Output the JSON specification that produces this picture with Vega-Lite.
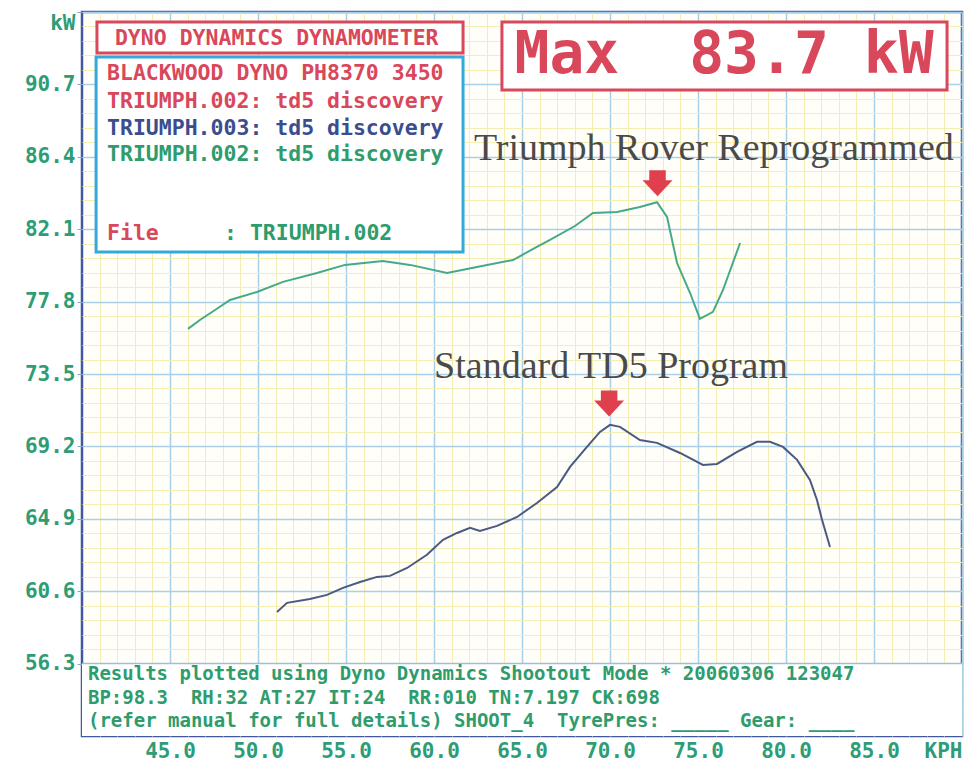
{
  "$schema": "https://vega.github.io/schema/vega-lite/v6.json",
  "width": 880,
  "height": 724,
  "autosize": {"type": "none"},
  "padding": {"left": 82, "top": 12, "right": 13, "bottom": 40},
  "background": "#ffffff",
  "config": {
    "view": {"stroke": "#3f58a0", "strokeWidth": 2.5, "fill": "#fffef8"},
    "font": "DejaVu Sans Mono"
  },
  "resolve": {"axis": {"x": "independent", "y": "independent"}},
  "layer": [
    {
      "data": {"values": [{"x0": 40, "x1": 90, "y0": 52, "y1": 56.3}]},
      "mark": {"type": "rect", "fill": "#ffffff"},
      "encoding": {
        "x": {
          "field": "x0", "type": "quantitative",
          "scale": {"domain": [40, 90], "nice": false, "zero": false},
          "axis": {
            "orient": "top", "title": null, "labels": false, "ticks": false, "domain": false,
            "grid": true, "gridColor": "#f3eeb4", "gridWidth": 1,
            "values": [41,42,43,44,46,47,48,49,51,52,53,54,56,57,58,59,61,62,63,64,66,67,68,69,71,72,73,74,76,77,78,79,81,82,83,84,86,87,88,89]
          }
        },
        "x2": {"field": "x1"},
        "y": {
          "field": "y0", "type": "quantitative",
          "scale": {"domain": [52, 95], "nice": false, "zero": false},
          "axis": {
            "orient": "right", "title": null, "labels": false, "ticks": false, "domain": false,
            "grid": true, "gridColor": "#f3eeb4", "gridWidth": 1,
            "values": [52.86,53.72,54.58,55.44,57.16,58.02,58.88,59.74,61.46,62.32,63.18,64.04,65.76,66.62,67.48,68.34,70.06,70.92,71.78,72.64,74.36,75.22,76.08,76.94,78.66,79.52,80.38,81.24,82.96,83.82,84.68,85.54,87.26,88.12,88.98,89.84,91.56,92.42,93.28,94.14]
          }
        },
        "y2": {"field": "y1"}
      }
    },
    {
      "data": {"values": [{"program": "Triumph Rover Reprogrammed", "kph": 46.02, "kW": 76.18}, {"program": "Triumph Rover Reprogrammed", "kph": 46.70, "kW": 76.71}, {"program": "Triumph Rover Reprogrammed", "kph": 47.56, "kW": 77.30}, {"program": "Triumph Rover Reprogrammed", "kph": 48.41, "kW": 77.90}, {"program": "Triumph Rover Reprogrammed", "kph": 49.94, "kW": 78.37}, {"program": "Triumph Rover Reprogrammed", "kph": 51.42, "kW": 78.97}, {"program": "Triumph Rover Reprogrammed", "kph": 53.35, "kW": 79.50}, {"program": "Triumph Rover Reprogrammed", "kph": 54.94, "kW": 79.98}, {"program": "Triumph Rover Reprogrammed", "kph": 57.10, "kW": 80.21}, {"program": "Triumph Rover Reprogrammed", "kph": 58.64, "kW": 79.98}, {"program": "Triumph Rover Reprogrammed", "kph": 60.74, "kW": 79.50}, {"program": "Triumph Rover Reprogrammed", "kph": 62.44, "kW": 79.86}, {"program": "Triumph Rover Reprogrammed", "kph": 64.49, "kW": 80.27}, {"program": "Triumph Rover Reprogrammed", "kph": 65.74, "kW": 80.99}, {"program": "Triumph Rover Reprogrammed", "kph": 66.59, "kW": 81.46}, {"program": "Triumph Rover Reprogrammed", "kph": 68.01, "kW": 82.29}, {"program": "Triumph Rover Reprogrammed", "kph": 69.03, "kW": 83.06}, {"program": "Triumph Rover Reprogrammed", "kph": 70.40, "kW": 83.12}, {"program": "Triumph Rover Reprogrammed", "kph": 71.70, "kW": 83.42}, {"program": "Triumph Rover Reprogrammed", "kph": 72.67, "kW": 83.70}, {"program": "Triumph Rover Reprogrammed", "kph": 73.24, "kW": 82.83}, {"program": "Triumph Rover Reprogrammed", "kph": 73.81, "kW": 80.09}, {"program": "Triumph Rover Reprogrammed", "kph": 74.55, "kW": 78.31}, {"program": "Triumph Rover Reprogrammed", "kph": 75.11, "kW": 76.77}, {"program": "Triumph Rover Reprogrammed", "kph": 75.85, "kW": 77.19}, {"program": "Triumph Rover Reprogrammed", "kph": 76.42, "kW": 78.49}, {"program": "Triumph Rover Reprogrammed", "kph": 77.39, "kW": 81.28},
        {"program": "Standard TD5 Program", "kph": 51.08, "kW": 59.37}, {"program": "Standard TD5 Program", "kph": 51.65, "kW": 59.91}, {"program": "Standard TD5 Program", "kph": 52.95, "kW": 60.14}, {"program": "Standard TD5 Program", "kph": 53.92, "kW": 60.38}, {"program": "Standard TD5 Program", "kph": 54.83, "kW": 60.80}, {"program": "Standard TD5 Program", "kph": 55.80, "kW": 61.15}, {"program": "Standard TD5 Program", "kph": 56.76, "kW": 61.45}, {"program": "Standard TD5 Program", "kph": 57.50, "kW": 61.51}, {"program": "Standard TD5 Program", "kph": 58.47, "kW": 61.98}, {"program": "Standard TD5 Program", "kph": 59.60, "kW": 62.76}, {"program": "Standard TD5 Program", "kph": 60.51, "kW": 63.65}, {"program": "Standard TD5 Program", "kph": 61.31, "kW": 64.06}, {"program": "Standard TD5 Program", "kph": 62.05, "kW": 64.36}, {"program": "Standard TD5 Program", "kph": 62.61, "kW": 64.18}, {"program": "Standard TD5 Program", "kph": 63.58, "kW": 64.48}, {"program": "Standard TD5 Program", "kph": 64.72, "kW": 65.01}, {"program": "Standard TD5 Program", "kph": 65.85, "kW": 65.84}, {"program": "Standard TD5 Program", "kph": 66.99, "kW": 66.79}, {"program": "Standard TD5 Program", "kph": 67.73, "kW": 67.98}, {"program": "Standard TD5 Program", "kph": 68.69, "kW": 69.17}, {"program": "Standard TD5 Program", "kph": 69.43, "kW": 70.06}, {"program": "Standard TD5 Program", "kph": 70.00, "kW": 70.48}, {"program": "Standard TD5 Program", "kph": 70.57, "kW": 70.36}, {"program": "Standard TD5 Program", "kph": 71.70, "kW": 69.58}, {"program": "Standard TD5 Program", "kph": 72.67, "kW": 69.41}, {"program": "Standard TD5 Program", "kph": 73.98, "kW": 68.81}, {"program": "Standard TD5 Program", "kph": 75.28, "kW": 68.10}, {"program": "Standard TD5 Program", "kph": 76.08, "kW": 68.16}, {"program": "Standard TD5 Program", "kph": 77.22, "kW": 68.87}, {"program": "Standard TD5 Program", "kph": 78.35, "kW": 69.47}, {"program": "Standard TD5 Program", "kph": 79.09, "kW": 69.47}, {"program": "Standard TD5 Program", "kph": 79.83, "kW": 69.17}, {"program": "Standard TD5 Program", "kph": 80.63, "kW": 68.40}, {"program": "Standard TD5 Program", "kph": 81.36, "kW": 67.21}, {"program": "Standard TD5 Program", "kph": 81.76, "kW": 66.02}, {"program": "Standard TD5 Program", "kph": 82.05, "kW": 64.83}, {"program": "Standard TD5 Program", "kph": 82.50, "kW": 63.23}]},
      "mark": {"type": "line", "strokeWidth": 2},
      "encoding": {
        "x": {
          "field": "kph", "type": "quantitative",
          "axis": {
            "orient": "bottom", "title": null, "domain": false, "ticks": false,
            "grid": true, "gridColor": "#aacfe8", "gridWidth": 1.5,
            "values": [45, 50, 55, 60, 65, 70, 75, 80, 85, 90],
            "labelExpr": "datum.value == 90 ? 'KPH' : format(datum.value, '.1f')",
            "labelAlign": {"condition": {"test": "datum.value == 90", "value": "right"}, "value": "center"},
            "labelFlush": false, "labelOverlap": false,
            "labelColor": "#2e9c74", "labelFont": "DejaVu Sans Mono", "labelFontSize": 21, "labelFontWeight": "bold", "labelPadding": 4
          }
        },
        "y": {
          "field": "kW", "type": "quantitative",
          "axis": {
            "orient": "left", "title": null, "domain": false, "ticks": true, "tickSize": 5, "tickColor": "#8ea3c4",
            "grid": true, "gridColor": "#aacfe8", "gridWidth": 1.5,
            "values": [56.3, 60.6, 64.9, 69.2, 73.5, 77.8, 82.1, 86.4, 90.7, 95],
            "labelExpr": "datum.value == 95 ? 'kW' : format(datum.value, '.1f')",
            "labelBaseline": {"condition": {"test": "datum.value == 95", "value": "top"}, "value": "middle"},
            "labelFlush": false, "labelOverlap": false,
            "labelColor": "#2e9c74", "labelFont": "DejaVu Sans Mono", "labelFontSize": 21, "labelFontWeight": "bold", "labelPadding": 2
          }
        },
        "color": {
          "field": "program", "type": "nominal",
          "scale": {"domain": ["Triumph Rover Reprogrammed", "Standard TD5 Program"], "range": ["#45a98c", "#4a5a82"]},
          "legend": null
        }
      }
    },
    {
      "data": {"values": [{}]},
      "mark": {"type": "rule", "color": "#9dbfd8", "strokeWidth": 1.5},
      "encoding": {"y": {"datum": 56.3, "type": "quantitative", "axis": null}}
    },
    {
      "data": {"values": [
        {"text": "Triumph Rover Reprogrammed", "kph": 75.9, "kW": 86.21},
        {"text": "Standard TD5 Program", "kph": 70.06, "kW": 73.27}
      ]},
      "mark": {"type": "text", "font": "Liberation Serif", "fontSize": 38, "color": "#4a4a4a", "align": "center", "baseline": "alphabetic"},
      "encoding": {
        "x": {"field": "kph", "type": "quantitative", "axis": null},
        "y": {"field": "kW", "type": "quantitative", "axis": null},
        "text": {"field": "text"}
      }
    },
    {
      "data": {"values": [
        {"label": "Triumph Rover peak", "kph": 72.7, "kW": 84.83},
        {"label": "Standard TD5 peak", "kph": 69.95, "kW": 71.75}
      ]},
      "mark": {"type": "point", "filled": true, "color": "#e0404e", "opacity": 1, "size": 900,
               "shape": "M-0.55,-0.87L0.55,-0.87L0.55,-0.2L1,-0.2L0,0.87L-1,-0.2L-0.55,-0.2Z"},
      "encoding": {
        "x": {"field": "kph", "type": "quantitative", "axis": null},
        "y": {"field": "kW", "type": "quantitative", "axis": null}
      }
    },
    {
      "data": {"values": [
        {"box": "header", "x0": 40.85, "x1": 61.65, "y0": 94.41, "y1": 92.57},
        {"box": "max", "x0": 63.86, "x1": 89.15, "y0": 94.41, "y1": 90.37}
      ]},
      "mark": {"type": "rect", "fill": "#ffffff", "stroke": "#d9475a", "strokeWidth": 3},
      "encoding": {
        "x": {"field": "x0", "type": "quantitative", "axis": null},
        "x2": {"field": "x1"},
        "y": {"field": "y0", "type": "quantitative", "axis": null},
        "y2": {"field": "y1"}
      }
    },
    {
      "data": {"values": [
        {"box": "runs", "x0": 40.80, "x1": 61.65, "y0": 92.33, "y1": 80.75}
      ]},
      "mark": {"type": "rect", "fill": "#ffffff", "stroke": "#33a9dc", "strokeWidth": 3},
      "encoding": {
        "x": {"field": "x0", "type": "quantitative", "axis": null},
        "x2": {"field": "x1"},
        "y": {"field": "y0", "type": "quantitative", "axis": null},
        "y2": {"field": "y1"}
      }
    },
    {
      "data": {"values": [
        {"text": "DYNO DYNAMICS DYNAMOMETER", "kph": 41.87, "kW": 93.37},
        {"text": "BLACKWOOD DYNO PH8370 3450", "kph": 41.42, "kW": 91.29},
        {"text": "TRIUMPH.002: td5 discovery", "kph": 41.42, "kW": 89.66},
        {"text": "File", "kph": 41.42, "kW": 81.82}
      ]},
      "mark": {"type": "text", "font": "DejaVu Sans Mono", "fontWeight": "bold", "fontSize": 21.5, "color": "#d9475a", "align": "left", "baseline": "middle"},
      "encoding": {
        "x": {"field": "kph", "type": "quantitative", "axis": null},
        "y": {"field": "kW", "type": "quantitative", "axis": null},
        "text": {"field": "text"}
      }
    },
    {
      "data": {"values": [
        {"text": "TRIUMPH.003: td5 discovery", "kph": 41.42, "kW": 88.05}
      ]},
      "mark": {"type": "text", "font": "DejaVu Sans Mono", "fontWeight": "bold", "fontSize": 21.5, "color": "#3b4d8e", "align": "left", "baseline": "middle"},
      "encoding": {
        "x": {"field": "kph", "type": "quantitative", "axis": null},
        "y": {"field": "kW", "type": "quantitative", "axis": null},
        "text": {"field": "text"}
      }
    },
    {
      "data": {"values": [
        {"text": "TRIUMPH.002: td5 discovery", "kph": 41.42, "kW": 86.51},
        {"text": ": TRIUMPH.002", "kph": 48.07, "kW": 81.82}
      ]},
      "mark": {"type": "text", "font": "DejaVu Sans Mono", "fontWeight": "bold", "fontSize": 21.5, "color": "#2e9c6c", "align": "left", "baseline": "middle"},
      "encoding": {
        "x": {"field": "kph", "type": "quantitative", "axis": null},
        "y": {"field": "kW", "type": "quantitative", "axis": null},
        "text": {"field": "text"}
      }
    },
    {
      "data": {"values": [
        {"text": "Results plotted using Dyno Dynamics Shootout Mode * 20060306 123047", "kph": 40.34, "kW": 55.66},
        {"text": "BP:98.3\u00a0\u00a0RH:32 AT:27 IT:24\u00a0\u00a0RR:010 TN:7.197 CK:698", "kph": 40.34, "kW": 54.26},
        {"text": "(refer manual for full details) SHOOT_4\u00a0\u00a0TyrePres: _____ Gear: ____", "kph": 40.34, "kW": 52.87}
      ]},
      "mark": {"type": "text", "font": "DejaVu Sans Mono", "fontWeight": "bold", "fontSize": 19, "color": "#2e9c6c", "align": "left", "baseline": "middle"},
      "encoding": {
        "x": {"field": "kph", "type": "quantitative", "axis": null},
        "y": {"field": "kW", "type": "quantitative", "axis": null},
        "text": {"field": "text"}
      }
    },
    {
      "data": {"values": [
        {"text": "Max\u00a0\u00a083.7 kW", "kph": 76.48, "kW": 92.39}
      ]},
      "mark": {"type": "text", "font": "DejaVu Sans Mono", "fontWeight": "bold", "fontSize": 58, "color": "#d9475a", "align": "center", "baseline": "middle"},
      "encoding": {
        "x": {"field": "kph", "type": "quantitative", "axis": null},
        "y": {"field": "kW", "type": "quantitative", "axis": null},
        "text": {"field": "text"}
      }
    }
  ]
}
